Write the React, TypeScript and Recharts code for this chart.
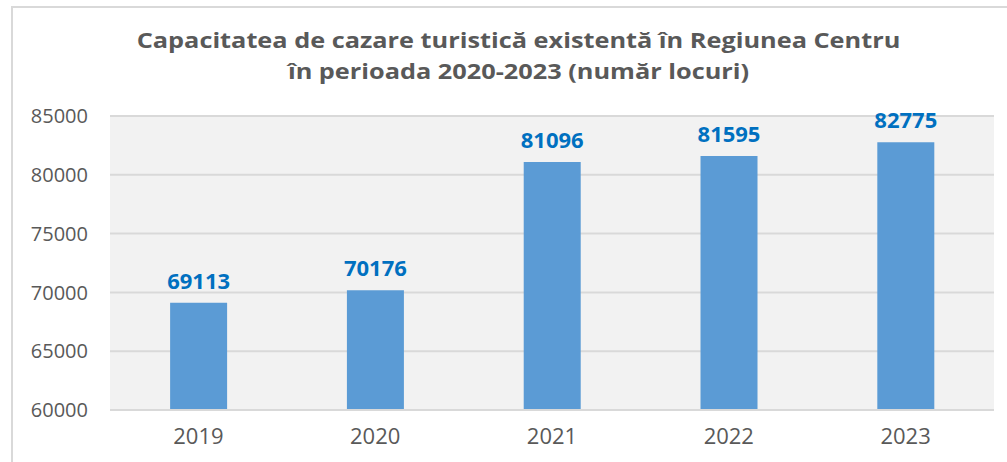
import React from 'react';
import { BarChart, Bar, XAxis, YAxis, CartesianGrid, LabelList } from 'recharts';

const years = ['2019', '2020', '2021', '2022', '2023'];
const places = [69113, 70176, 81096, 81595, 82775];
const yTicks = [60000, 65000, 70000, 75000, 80000, 85000];

const titleLines = [
  'Capacitatea de cazare turistică existentă în Regiunea Centru',
  'în perioada 2020-2023 (număr locuri)',
];

const data = years.map((year, i) => ({ year, places: places[i] }));

const font = '"Open Sans", sans-serif';

export default function App() {
  return (
    <div style={{ position: 'absolute', left: 0, top: 0, width: 1007, height: 462, background: '#fff', fontFamily: font }}>
      {/* frame: only top and left edges are visible in the crop */}
      <div style={{ position: 'absolute', left: 11, top: 6, right: 0, bottom: 0, borderTop: '2px solid #d9d9d9', borderLeft: '2px solid #d9d9d9' }} />
      <div style={{ position: 'absolute', left: 0, top: 0 }}>
        <BarChart
          width={1007}
          height={462}
          data={data}
          margin={{ top: 116, right: 13, left: 0, bottom: 0 }}
          barCategoryGap="34%"
        >
          <CartesianGrid vertical={false} fill="#f2f2f2" stroke="#d9d9d9" strokeWidth={2} />
          <XAxis
            dataKey="year"
            height={52}
            axisLine={{ stroke: '#d9d9d9', strokeWidth: 2 }}
            tickLine={false}
            tickMargin={12}
            tick={{ fill: '#595959', fontSize: 22, fontFamily: font }}
          />
          <YAxis
            width={110}
            domain={[60000, 85000]}
            ticks={yTicks}
            interval={0}
            axisLine={false}
            tickLine={false}
            tickMargin={16}
            tick={{ fill: '#595959', fontSize: 20, fontFamily: font }}
          />
          <Bar dataKey="places" fill="#5b9bd5" isAnimationActive={false}>
            <LabelList
              dataKey="places"
              position="top"
              offset={14}
              fill="#0070c0"
              fontSize={22}
              fontWeight="bold"
              fontFamily={font}
            />
          </Bar>
        </BarChart>
      </div>
      <div style={{ position: 'absolute', left: 0, width: 1037, top: 24, textAlign: 'center', color: '#595959', fontSize: 22, fontWeight: 700, lineHeight: '31px', transform: 'scaleX(1.15)', transformOrigin: '518.5px 0' }}>
        {titleLines.map((line) => (
          <div key={line}>{line}</div>
        ))}
      </div>
    </div>
  );
}
